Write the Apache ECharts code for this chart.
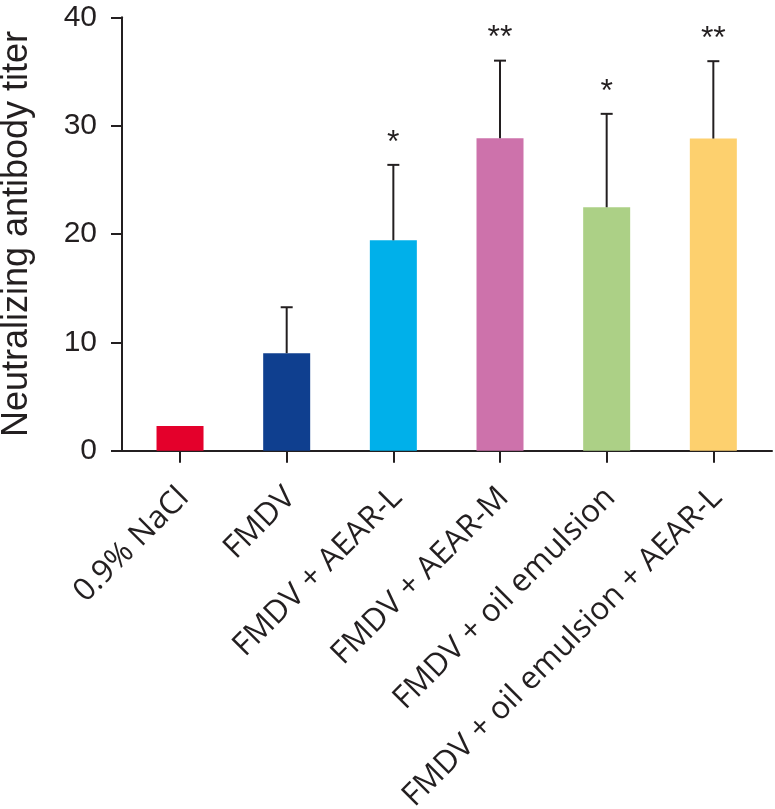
<!DOCTYPE html>
<html><head><meta charset="utf-8">
<script src="https://cdn.jsdelivr.net/npm/echarts@6/dist/echarts.min.js"></script>
<style>html,body{margin:0;padding:0;background:#fff}#c{width:775px;height:809px}</style>
</head><body><div id="c"></div>
<script>
const categories = ['0.9% NaCl', 'FMDV', 'FMDV + AEAR-L', 'FMDV + AEAR-M', 'FMDV + oil emulsion', 'FMDV + oil emulsion + AEAR-L'];
const means = [2.28, 9.0, 19.42, 28.84, 22.47, 28.81];
const sd = [0, 4.24, 6.96, 7.16, 8.62, 7.14];
const significance = ['', '', '*', '**', '*', '**'];
const yTicks = [0, 10, 20, 30, 40];
const colors = ['#E4002B', '#0F3F8F', '#00B0EA', '#CD72AB', '#ACD086', '#FDD06E'];
const ink = '#231f20';

const idx = categories.map((_, i) => i);
const chart = echarts.init(document.getElementById('c'), null, {renderer: 'canvas'});
chart.setOption({
  animation: false,
  grid: {left: 122, right: 3, top: 17.3, bottom: 358.3, containLabel: false, outerBoundsMode: 'none'},
  xAxis: {
    type: 'value', min: -0.544, max: 5.55,
    splitLine: {show: false},
    axisLine: {onZero: false, lineStyle: {color: ink, width: 2}},
    axisTick: {customValues: idx, length: 12, lineStyle: {color: ink, width: 2}},
    axisLabel: {customValues: idx.map(i => i + 0.035), formatter: v => categories[Math.round(v)], rotate: 45, margin: 42,
      fontFamily: 'Open Sans', fontSize: 31.5, color: ink}
  },
  yAxis: {
    type: 'value', min: 0, max: 40,
    name: 'Neutralizing antibody titer', nameLocation: 'middle', nameGap: 87,
    nameTextStyle: {fontFamily: 'Liberation Sans', fontSize: 36, color: ink},
    splitLine: {show: false},
    axisLine: {show: true, onZero: false, lineStyle: {color: ink, width: 2}},
    axisTick: {show: true, customValues: yTicks, length: 11, lineStyle: {color: ink, width: 2}},
    axisLabel: {customValues: yTicks, margin: 25, fontFamily: 'Liberation Sans', fontSize: 30, color: ink}
  },
  series: [
    {
      type: 'bar', barWidth: 47,
      data: idx.map(i => ({value: [i, means[i]], itemStyle: {color: colors[i]}}))
    },
    {
      type: 'custom', z: 5,
      data: idx.map(i => [i, means[i], means[i] + sd[i]]),
      renderItem: (params, api) => {
        const i = api.value(0);
        const base = api.coord([i, api.value(1)]);
        const top = api.coord([i, api.value(2)]);
        const children = [];
        if (sd[i] > 0) {
          children.push({type: 'line', shape: {x1: base[0], y1: base[1], x2: top[0], y2: top[1]}, style: {stroke: ink, lineWidth: 2}});
          children.push({type: 'line', shape: {x1: top[0] - 6, y1: top[1], x2: top[0] + 6, y2: top[1]}, style: {stroke: ink, lineWidth: 2}});
        }
        if (significance[i]) {
          children.push({type: 'text', x: top[0], y: top[1] - 22,
            style: {text: significance[i], fill: ink, font: '32px "Liberation Sans"', align: 'center', verticalAlign: 'middle'}});
        }
        return {type: 'group', children};
      }
    }
  ]
});
</script>
</body></html>
